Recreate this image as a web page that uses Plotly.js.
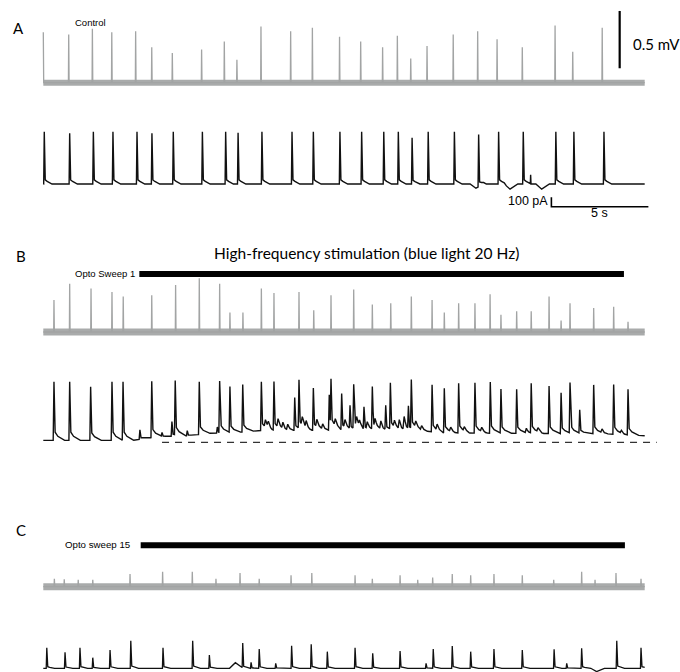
<!DOCTYPE html>
<html><head><meta charset="utf-8">
<script src="https://cdn.plot.ly/plotly-3.0.1.min.js"></script>
<style>html,body{margin:0;padding:0;background:#fff}#chart{width:680px;height:672px}</style>
</head><body><div id="chart"></div>
<script>
// ---------------- DATA ----------------
const DURATION = 31.0;                       // s, sweep length

// Panel A – control
const aGrayT   = [0.00,1.31,2.53,3.53,4.76,5.59,6.65,8.16,9.33,9.98,11.22,12.75,13.87,15.27,16.36,17.49,18.25,18.94,19.78,21.13,22.39,23.39,24.69,26.38,27.29,28.81];
const aGrayAmp = [0.44,0.42,0.47,0.44,0.45,0.31,0.26,0.29,0.36,0.20,0.49,0.45,0.48,0.40,0.36,0.31,0.41,0.21,0.32,0.42,0.45,0.38,0.31,0.50,0.27,0.48]; // mV
const aBlackT   = [0.05,1.36,2.58,3.59,4.83,5.60,6.70,8.20,9.40,10.04,11.27,12.82,13.92,15.29,16.41,17.55,18.30,19.01,19.84,21.19,22.44,23.47,24.74,26.42,27.35,28.90];
const aBlackAmp = [556,539,556,556,556,540,556,556,556,545,556,556,556,556,556,556,556,493,556,556,556,556,556,556,556,556]; // pA
const aSmallT   = [25.12];
const aSmallAmp = [96];
const aSlowT    = [22.30,24.06,25.69];
const aSlowAmp  = [-45,-55,-55];

// Panel B – opto sweep 1
const bGrayT   = [0.55,1.36,2.46,3.54,4.12,5.59,6.82,8.04,9.09,9.62,10.29,11.24,11.89,13.18,13.94,14.83,16.00,16.96,17.91,18.97,20.04,20.67,21.41,22.25,23.03,23.59,24.40,25.15,26.07,26.69,27.15,28.37,29.40,30.14];
const bGrayAmp = [0.28,0.42,0.38,0.35,0.31,0.32,0.41,0.47,0.42,0.17,0.17,0.38,0.34,0.35,0.19,0.32,0.37,0.24,0.25,0.31,0.28,0.17,0.25,0.25,0.33,0.15,0.18,0.18,0.31,0.10,0.25,0.21,0.22,0.09];
const bBlackT   = [0.55,1.36,2.44,3.54,4.11,4.98,5.59,6.12,6.63,6.80,7.42,8.04,8.97,9.09,9.62,10.28,11.24,11.89,12.96,13.18,13.92,14.74,14.83,15.38,15.81,16.00,16.53,16.96,17.65,17.89,18.82,18.97,20.04,20.67,21.41,22.25,23.04,23.59,24.40,25.15,26.07,26.69,27.15,27.65,28.37,29.40,30.14];
const bBlackAmp = [625,625,571,625,625,100,600,42,155,580,55,560,65,545,490,505,520,520,350,515,450,375,500,390,250,470,240,455,260,490,245,520,500,475,530,535,545,470,470,530,505,435,535,250,520,530,485];
const bSmallT   = [11.45,11.6,12.1,12.35,12.6,13.35,13.55,14.1,14.4,15.05,15.55,16.15,16.3,16.7,17.1,17.4,18.1,18.35,18.6,19.2,19.5,20.3,21.0,21.7,22.6,24.9,25.5,28.8,29.8];
const bSmallAmp = [80,60,90,70,60,90,70,80,60,70,80,90,60,70,80,90,70,100,140,60,50,60,40,40,40,50,40,40,30];
const bBaseT = [0,4.6,5.2,6.0,7.5,8.5,10.0,11.2,15.0,19.5,20.5,29.0,31.0];
const bBaseV = [20,20,40,60,70,95,105,125,130,125,100,90,70];   // pA above rest (dashed line)
const bStim = [4.95, 29.93];                                    // s, 20 Hz light on/off
const restLine = [6.12, 31.62];                                  // s, dashed resting level

// Panel C – opto sweep 15
const cGrayT   = [0.57,1.08,1.80,2.55,4.47,6.15,7.68,8.90,10.14,11.13,12.77,13.84,16.07,16.96,18.39,19.30,20.07,21.08,22.03,23.23,24.69,26.31,27.75,28.44,29.52,30.81];
const cGrayAmp = [0.07,0.065,0.06,0.06,0.11,0.13,0.13,0.07,0.12,0.07,0.10,0.12,0.10,0.07,0.10,0.06,0.08,0.11,0.10,0.11,0.10,0.06,0.13,0.06,0.12,0.07];
const cBlackT   = [0.18,1.12,1.89,2.55,3.44,4.51,6.17,7.70,8.56,10.28,10.71,11.13,11.98,12.80,13.81,14.64,16.07,16.98,18.39,19.73,20.10,21.08,22.03,23.23,24.69,26.33,26.98,27.75,29.56,30.81];
const cBlackAmp = [219,170,219,113,195,294,219,294,141,266,64,205,53,240,255,177,219,160,184,53,205,237,177,205,195,202,53,213,294,219];
const cSlowT   = [9.90,28.52];
const cSlowAmp = [60,-35];
const cStim = [5.02, 29.98];

// scale bars
const mvBar = {t: 29.71, from: 0.126, size: 0.5};     // 0.5 mV
const paBar = {t: 26.19, from: -241.5, size: 100, dur: 5}; // 100 pA, 5 s

// ---------------- helpers ----------------
const W = 680, H = 672;
const X0 = 43.3, PXS = 19.4;          // px of t=0, px per second
const GRAY = '#a2a4a4', BAND = '#a9abab', BLACK = '#111111';
const K_GRAY  = {dt:[-0.015,0,0.02], v:[0,1,0]};
const K_SPIKE = {dt:[-0.03,0,0.05,0.15,0.4], v:[0,1,0.08,0.05,0]};
const K_BSPK  = {dt:[-0.04,0,0.06,0.2,0.55], v:[0,1,0.14,0.07,0]};
const K_SMALL = {dt:[-0.06,0,0.12,0.3], v:[0,1,0.3,0]};
const K_SLOW  = {dt:[-0.3,0,0.4], v:[0,1,0]};

function lin(xs, ys, x){
  if (x <= xs[0]) return ys[0];
  for (let i=1;i<xs.length;i++){ if (x <= xs[i]) { const f=(x-xs[i-1])/(xs[i]-xs[i-1]); return ys[i-1]+f*(ys[i]-ys[i-1]); } }
  return ys[ys.length-1];
}
function ev(ts, as, k){ return ts.map((t,i)=>({t, a:as[i], k})); }
function build(events, baseT, baseV){
  baseT = baseT || [0, DURATION]; baseV = baseV || [0,0];
  let s = new Set([0, DURATION, ...baseT]);
  events.forEach(e => e.k.dt.forEach(d => { const t=+(e.t+d).toFixed(4); if (t>=0 && t<=DURATION) s.add(t); }));
  const xs = [...s].sort((a,b)=>a-b);
  const ys = xs.map(t => {
    let y = lin(baseT, baseV, t);
    events.forEach(e => { const d=t-e.t; if (d>e.k.dt[0] && d<e.k.dt[e.k.dt.length-1]) y += e.a*lin(e.k.dt, e.k.v, d); });
    return y;
  });
  return {x: xs, y: ys};
}
function yr(basePx, pxPerUnit){ return [(basePx-H)/pxPerUnit, basePx/pxPerUnit]; }
const SG = 114.6, SB = 0.094;          // px per mV, px per pA

const traces = [];
function line(x, y, ya, color, width, extra){ traces.push(Object.assign({type:'scatter', mode:'lines', x, y, yaxis:ya, line:{color, width}, hoverinfo:'skip', cliponaxis:false}, extra||{})); }

// A
line([0,DURATION],[0,0],'y',BAND,6);
let g = build(ev(aGrayT,aGrayAmp,K_GRAY)); line(g.x,g.y,'y',GRAY,1.3);
g = build([...ev(aBlackT,aBlackAmp,K_SPIKE),...ev(aSmallT,aSmallAmp,K_GRAY),...ev(aSlowT,aSlowAmp,K_SLOW)]); line(g.x,g.y,'y2',BLACK,1.4);
// B
line([0,DURATION],[0,0],'y3',BAND,7);
g = build(ev(bGrayT,bGrayAmp,K_GRAY)); line(g.x,g.y,'y3',GRAY,1.3);
line(bStim,[0.506,0.506],'y3','#000',6);
line(restLine,[0,0],'y4','#333',1.2,{line:{color:'#333',width:1.2,dash:'7px,6px'}});
g = build([...ev(bBlackT,bBlackAmp,K_BSPK),...ev(bSmallT,bSmallAmp,K_SMALL)], bBaseT, bBaseV); line(g.x,g.y,'y4',BLACK,1.4);
// C
line([0,DURATION],[0,0],'y5',BAND,7);
g = build(ev(cGrayT,cGrayAmp,K_GRAY)); line(g.x,g.y,'y5',GRAY,1.3);
line(cStim,[0.361,0.361],'y5','#000',6);
g = build([...ev(cBlackT,cBlackAmp,K_SPIKE),...ev(cSlowT,cSlowAmp,K_SLOW)]); line(g.x,g.y,'y6',BLACK,1.3);
// scale bars
line([mvBar.t,mvBar.t],[mvBar.from,mvBar.from+mvBar.size],'y','#000',2.2);
line([paBar.t,paBar.t,paBar.t+paBar.dur],[paBar.from+paBar.size,paBar.from,paBar.from],'y2','#000',1.6);

// ---------------- layout ----------------
const hidden = {visible:false, showgrid:false, zeroline:false, fixedrange:true};
function yax(basePx, s, first){ return Object.assign({}, hidden, {range: yr(basePx, s), domain:[0,1]}, first?{}:{overlaying:'y'}); }
const px = x => x/W, py = y => 1 - y/H;
function ann(text, x, y, size, family, xanchor, extra){
  return Object.assign({text, x:px(x), y:py(y), xref:'paper', yref:'paper', showarrow:false, xanchor:xanchor||'left', yanchor:'middle',
    font:{size, family, color:'#000'}}, extra||{});
}
const CAL = 'Lato, "Open Sans", sans-serif', ARI = '"Liberation Sans", Arial, sans-serif';
const layout = {
  width:W, height:H, margin:{l:0,r:0,t:0,b:0}, paper_bgcolor:'#fff', plot_bgcolor:'#fff', showlegend:false,
  xaxis: Object.assign({}, hidden, {range:[-X0/PXS, (W-X0)/PXS], domain:[0,1]}),
  yaxis:  yax(82.7, SG, true),
  yaxis2: yax(184, SB),
  yaxis3: yax(332, SG),
  yaxis4: yax(442.3, SB),
  yaxis5: yax(586.7, SG),
  yaxis6: yax(668.3, SB),
  annotations: [
    ann('A', 18.7, 27.5, 15, CAL, 'center'),
    ann('Control', 72.5, 22.5, 9.5, ARI),
    ann('0.5 mV', 630.5, 43.5, 15, CAL),
    ann('100 pA', 549.5, 200.5, 12.5, ARI, 'right'),
    ann('5 s', 599, 213.5, 12.5, ARI, 'center'),
    ann('B', 21, 256, 15, CAL, 'center'),
    ann('High-frequency stimulation (blue light 20 Hz)', 212, 252.5, 15.5, CAL),
    ann('Opto Sweep 1', 72.5, 273.5, 9.5, ARI),
    ann('C', 21, 530, 15, CAL, 'center'),
    ann('Opto sweep 15', 63, 544.2, 9.7, ARI)
  ]
};
Plotly.newPlot('chart', traces, layout, {staticPlot:true, displayModeBar:false});
</script>
</body></html>
